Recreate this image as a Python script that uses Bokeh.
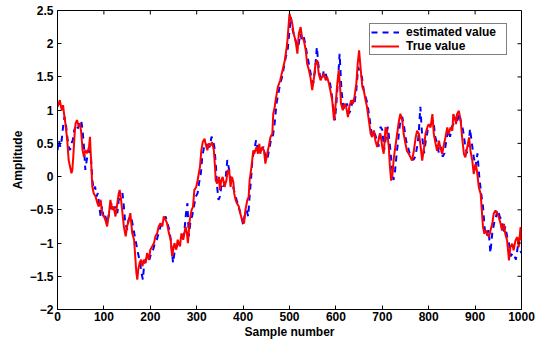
import math
from bokeh.plotting import figure
from bokeh.models import Range1d, FixedTicker, Legend, LegendItem, ColumnDataSource
from bokeh.embed import file_html
from bokeh.resources import INLINE

red_sample = [0, 5, 9, 12, 14, 17, 21, 24, 27, 30, 32, 34, 37, 39, 42, 46, 48, 51, 54, 57,
              60, 64, 68, 70, 71, 73, 75, 78, 82, 86, 89, 93, 96, 100, 103, 107, 111, 114, 118, 121,
              125, 129, 132, 134, 137, 140, 143, 147, 150, 154, 157, 161, 165, 168, 170, 172, 174, 177, 180, 183,
              186, 190, 193, 197, 200, 204, 208, 211, 215, 218, 222, 226, 229, 233, 236, 240, 244, 247, 252, 256,
              259, 264, 267, 271, 276, 279, 281, 285, 289, 292, 295, 299, 302, 307, 310, 313, 317, 319, 323, 326,
              330, 333, 337, 339, 341, 344, 348, 350, 353, 356, 360, 364, 367, 370, 373, 376, 379, 381, 384, 387,
              391, 394, 398, 402, 405, 409, 412, 414, 418, 422, 424, 429, 432, 435, 437, 441, 445, 448, 452, 455,
              459, 463, 465, 468, 470, 475, 480, 485, 490, 495, 500, 506, 509, 513, 517, 520, 524, 527, 531, 535,
              538, 542, 545, 549, 553, 556, 560, 563, 567, 570, 574, 578, 581, 585, 588, 592, 596, 599, 603, 606,
              609, 611, 615, 619, 622, 626, 629, 633, 637, 640, 644, 647, 650, 653, 657, 660, 664, 667, 671, 675,
              678, 682, 685, 689, 693, 696, 700, 703, 707, 710, 714, 716, 719, 722, 725, 728, 732, 736, 739, 743,
              746, 750, 753, 757, 761, 764, 768, 772, 775, 779, 782, 786, 790, 793, 797, 800, 804, 808, 811, 815,
              818, 822, 825, 829, 833, 836, 840, 843, 847, 851, 853, 856, 859, 861, 865, 869, 872, 876, 879, 883,
              887, 890, 894, 897, 901, 904, 908, 912, 915, 917, 920, 923, 926, 930, 933, 937, 940, 944, 948, 951,
              955, 958, 962, 965, 969, 973, 976, 980, 983, 987, 991, 994, 998, 1000]
red_value = [1.05, 1.15, 1.0, 1.075, 0.95, 0.8, 0.55, 0.25, 0.15, 0.05, 0.1, 0.3, 0.65, 0.8, 0.85, 0.75, 0.8, 0.675, 0.4, 0.3,
             0.4, 0.35, 0.45, 0.6, 0.45, 0.15, -0.15, -0.25, -0.3, -0.4, -0.45, -0.35, -0.55, -0.6, -0.65, -0.75, -0.55, -0.35, -0.5, -0.45,
             -0.6, -0.4, -0.25, -0.2, -0.35, -0.55, -0.75, -0.9, -0.75, -0.65, -0.55, -0.85, -0.95, -1.25, -1.45, -1.55, -1.4, -1.3, -1.25, -1.35,
             -1.25, -1.3, -1.15, -1.25, -1.1, -1.05, -1.0, -0.9, -0.85, -0.75, -0.7, -0.75, -0.6, -0.65, -0.7, -0.85, -0.95, -1.2, -1.0, -1.1,
             -0.95, -1.05, -0.855, -0.95, -0.755, -0.855, -1.0, -0.655, -0.5, -0.455, -0.2, -0.155, -0.055, 0.145, 0.395, 0.52, 0.57, 0.5, 0.395, 0.5,
             0.47, 0.52, 0.395, 0.195, -0.055, -0.105, -0.005, -0.2, -0.055, -0.005, -0.155, -0.055, 0.095, 0.095, -0.155, -0.005, -0.08, -0.26, -0.355, -0.405,
             -0.455, -0.555, -0.655, -0.705, -0.505, -0.355, -0.305, -0.055, 0.145, 0.395, 0.345, 0.445, 0.345, 0.495, 0.345, 0.445, 0.395, 0.195, 0.345, 0.445,
             0.595, 0.645, 0.945, 1.045, 1.145, 1.35, 1.45, 1.6, 1.75, 2.0, 2.45, 2.3, 2.15, 2.05, 1.85, 2.15, 2.25, 2.1, 2.05, 1.9,
             1.7, 1.6, 1.5, 1.3, 1.5, 1.7, 1.75, 1.55, 1.45, 1.5, 1.55, 1.45, 1.5, 1.4, 1.3, 1.15, 0.845, 1.05, 1.4, 1.6,
             1.35, 1.1, 1.0, 1.1, 1.05, 0.895, 1.05, 1.15, 1.1, 1.2, 1.4, 1.7, 1.9, 1.65, 1.35, 1.3, 1.15, 1.05, 0.845, 0.645,
             0.595, 0.695, 0.545, 0.445, 0.595, 0.645, 0.445, 0.345, 0.745, 0.695, 0.445, 0.19, -0.06, 0.04, 0.29, 0.445, 0.645, 0.845, 0.945, 0.845,
             0.645, 0.495, 0.39, 0.345, 0.29, 0.24, 0.39, 0.59, 0.69, 0.64, 0.49, 0.24, 0.44, 0.64, 0.74, 0.79, 0.74, 0.94, 0.64, 0.49,
             0.39, 0.54, 0.44, 0.34, 0.49, 0.59, 0.74, 0.64, 0.74, 0.69, 0.94, 0.89, 0.79, 0.94, 0.99, 0.84, 0.59, 0.34, 0.29, 0.44,
             0.59, 0.39, 0.24, 0.04, 0.19, 0.09, -0.16, -0.26, -0.56, -0.76, -0.86, -0.81, -0.86, -0.91, -0.81, -0.71, -0.56, -0.51, -0.56, -0.61,
             -0.71, -0.81, -0.71, -0.86, -0.96, -1.26, -1.06, -1.01, -1.11, -0.96, -0.91, -1.06, -0.76, -0.96]

est_sample = [0, 3, 6, 9, 12, 15, 18, 21, 24, 27, 30, 33, 36, 39, 42, 45, 48, 51, 54, 57,
              60, 63, 66, 69, 72, 75, 78, 81, 84, 87, 90, 93, 96, 99, 102, 106, 110, 114, 117, 121,
              125, 129, 132, 136, 140, 143, 146, 150, 153, 157, 160, 164, 168, 172, 175, 178, 181, 184, 187, 190,
              194, 198, 202, 206, 210, 214, 218, 222, 226, 230, 233, 237, 241, 245, 249, 253, 257, 261, 265, 269,
              273, 277, 280, 283, 287, 290, 294, 298, 302, 305, 309, 312, 316, 320, 324, 328, 332, 335, 338, 341,
              344, 347, 350, 354, 358, 362, 366, 370, 374, 377, 380, 384, 388, 392, 396, 400, 403, 407, 411, 414,
              417, 420, 424, 428, 432, 436, 440, 444, 448, 452, 456, 460, 464, 468, 472, 476, 480, 484, 488, 492,
              496, 500, 503, 507, 511, 515, 519, 523, 527, 531, 535, 539, 543, 547, 551, 555, 559, 562, 566, 570,
              574, 578, 582, 586, 590, 594, 598, 601, 605, 608, 612, 616, 620, 624, 628, 632, 636, 640, 644, 648,
              652, 656, 660, 664, 668, 672, 676, 680, 684, 688, 692, 696, 700, 704, 708, 712, 716, 720, 724, 727,
              731, 735, 739, 743, 747, 751, 755, 759, 763, 767, 771, 775, 778, 782, 786, 790, 794, 798, 802, 806,
              810, 814, 818, 822, 826, 830, 834, 838, 842, 846, 850, 854, 858, 862, 866, 870, 874, 878, 882, 886,
              889, 893, 897, 901, 905, 909, 913, 917, 921, 925, 929, 933, 937, 941, 945, 949, 953, 957, 961, 965,
              969, 973, 977, 981, 985, 988, 992, 996, 1000]
est_value = [0.4, 0.55, 0.45, 0.55, 0.75, 0.9, 0.8, 0.6, 0.45, 0.4, 0.5, 0.55, 0.7, 0.75, 0.7, 0.75, 0.8, 0.85, 0.7, 0.45,
             0.1, 0.25, 0.35, 0.4, 0.3, -0.05, -0.2, -0.15, -0.3, -0.25, -0.45, -0.6, -0.45, -0.6, -0.55, -0.7, -0.6, -0.45, -0.4, -0.5,
             -0.45, -0.55, -0.35, -0.3, -0.25, -0.45, -0.7, -0.8, -0.65, -0.6, -0.65, -0.8, -0.95, -1.1, -1.2, -1.3, -1.45, -1.55, -1.3, -1.25,
             -1.2, -1.25, -1.15, -1.1, -1.0, -0.95, -0.85, -0.75, -0.7, -0.65, -0.6, -0.7, -0.8, -1.0, -1.3, -1.1, -1.05, -1.0, -0.95, -0.9,
             -0.85, -0.55, -0.4, -0.9, -0.65, -0.6, -0.45, -0.3, -0.25, -0.1, 0.05, 0.3, 0.45, 0.5, 0.45, 0.45, 0.6, 0.55, 0.45, 0.2,
             -0.15, -0.35, -0.3, -0.1, -0.15, -0.05, 0.25, 0.1, -0.05, -0.1, -0.2, -0.3, -0.4, -0.5, -0.6, -0.72, -0.6, -0.5, -0.6, -0.3,
             -0.05, 0.25, 0.4, 0.55, 0.4, 0.45, 0.4, 0.45, 0.3, 0.25, 0.4, 0.55, 0.6, 0.8, 1.1, 1.25, 1.4, 1.5, 1.65, 1.8,
             1.9, 2.2, 2.4, 2.2, 2.1, 2.0, 1.95, 2.15, 2.05, 2.1, 1.95, 1.8, 1.65, 1.5, 1.4, 1.6, 1.95, 1.7, 1.5, 1.45,
             1.6, 1.55, 1.45, 1.45, 1.3, 1.05, 0.85, 1.1, 1.5, 1.85, 1.3, 1.05, 1.0, 1.1, 0.95, 1.0, 1.15, 1.1, 1.3, 1.65,
             1.55, 1.5, 1.3, 1.2, 1.1, 0.9, 0.7, 0.6, 0.65, 0.55, 0.45, 0.75, 0.7, 0.4, 0.6, 0.75, 0.5, 0.2, -0.05, 0.05,
             0.35, 0.6, 0.85, 0.9, 0.75, 0.55, 0.45, 0.35, 0.3, 0.25, 0.3, 0.45, 0.6, 1.05, 0.6, 0.35, 0.55, 0.7, 0.75, 0.8,
             0.85, 0.6, 0.5, 0.35, 0.45, 0.3, 0.35, 0.55, 0.7, 0.6, 0.75, 0.8, 0.85, 0.85, 0.95, 0.8, 0.7, 0.5, 0.35, 0.45,
             0.72, 0.5, 0.3, 0.15, 0.35, 0.0, -0.25, -0.45, -0.8, -0.9, -0.8, -1.15, -0.85, -0.7, -0.6, -0.5, -0.6, -0.65, -0.85, -0.75,
             -0.9, -1.0, -1.2, -1.15, -1.2, -1.25, -1.05, -1.1, -1.15]

x_ticks = [0, 100, 200, 300, 400, 500, 600, 700, 800, 900, 1000]
y_ticks = [-2, -1.5, -1, -0.5, 0, 0.5, 1, 1.5, 2, 2.5]
y_tick_labels = ["\u22122", "\u22121.5", "\u22121", "\u22120.5", "0", "0.5", "1", "1.5", "2", "2.5"]

FONT = "Liberation Sans"

x_rng = Range1d(0, 1000)
y_rng = Range1d(-2, 2.5)
p = figure(width=543, height=343, output_backend="svg", toolbar_location=None,
           x_range=x_rng, y_range=y_rng,
           min_border_left=57, min_border_right=22, min_border_top=10, min_border_bottom=34)
p.grid.visible = False
p.outline_line_color = "black"
p.outline_line_width = 1
p.background_fill_color = "white"
p.border_fill_color = "white"

est_src = ColumnDataSource(dict(x=est_sample, y=est_value))
red_src = ColumnDataSource(dict(x=red_sample, y=red_value))
r_est = p.line("x", "y", source=est_src, line_color="#0000ff", line_width=2, line_dash="6 5")
r_red = p.line("x", "y", source=red_src, line_color="#ff0000", line_width=2)

# inward ticks on the top and right edges of the box
p.ray(x=x_ticks, y=[y_rng.end] * len(x_ticks), length=4, length_units="screen",
      angle=-math.pi / 2, line_color="black", line_width=1)
p.ray(x=[x_rng.end] * len(y_ticks), y=y_ticks, length=4, length_units="screen",
      angle=math.pi, line_color="black", line_width=1)

def style_axis(ax):
    ax.axis_line_color = "black"
    ax.major_tick_line_color = "black"
    ax.major_tick_in = 4
    ax.major_tick_out = 0
    ax.minor_tick_line_color = None
    ax.major_label_text_font = FONT
    ax.major_label_text_font_style = "bold"
    ax.major_label_text_color = "black"
    ax.major_label_text_font_size = "12px"
    ax.axis_label_text_font = FONT
    ax.axis_label_text_font_style = "bold"
    ax.axis_label_text_font_size = "12px"
    ax.axis_label_text_color = "black"

xa = p.xaxis[0]
xa.ticker = FixedTicker(ticks=x_ticks)
xa.axis_label = "Sample number"
style_axis(xa)
xa.major_label_standoff = 2
xa.axis_label_standoff = 1

ya = p.yaxis[0]
ya.ticker = FixedTicker(ticks=y_ticks)
ya.major_label_overrides = {t: l for t, l in zip(y_ticks, y_tick_labels)}
ya.axis_label = "Amplitude"
style_axis(ya)
ya.major_label_standoff = 4
ya.axis_label_standoff = 2

legend = Legend(items=[LegendItem(label="estimated value", renderers=[r_est]),
                       LegendItem(label="True value", renderers=[r_red])],
                location=(312, 254))
legend.label_text_font = FONT
legend.label_text_font_style = "bold"
legend.label_text_font_size = "12px"
legend.label_text_color = "black"
legend.border_line_color = "black"
legend.border_line_width = 1
legend.background_fill_color = "white"
legend.background_fill_alpha = 1
legend.padding = 1
legend.spacing = 0
legend.margin = 0
legend.glyph_width = 28
legend.glyph_height = 12
legend.label_height = 12
legend.label_standoff = 7
legend.label_width = 99
p.add_layout(legend)

open("out.html", "w").write(file_html(p, INLINE))
